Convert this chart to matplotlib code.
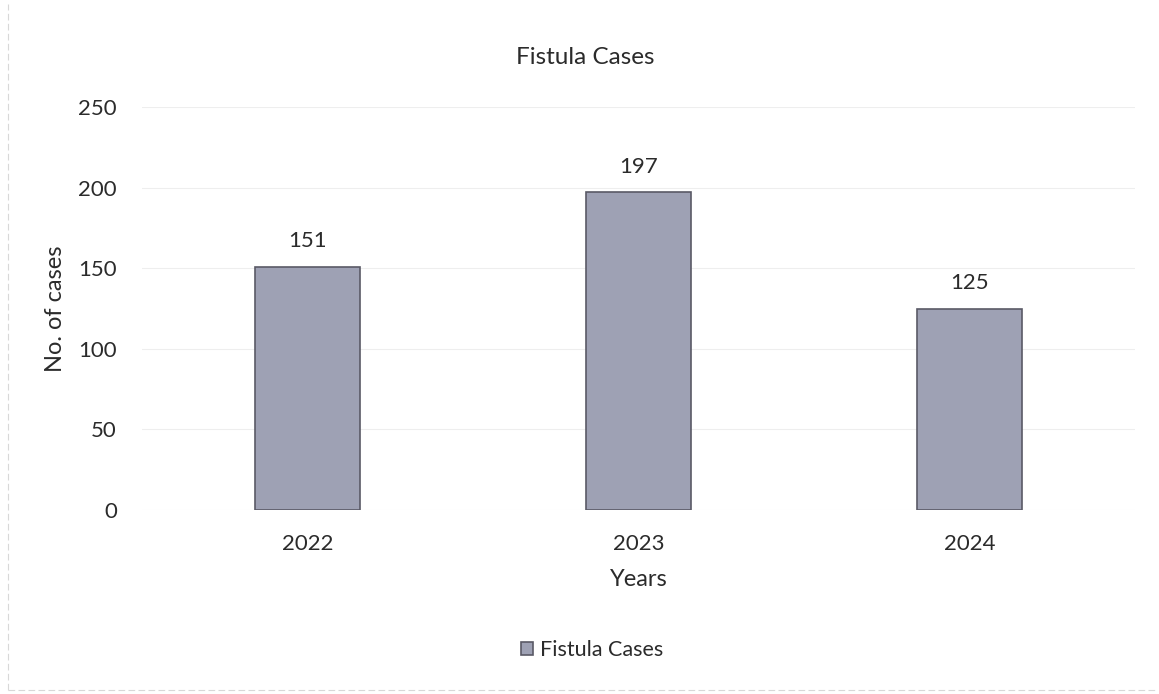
import matplotlib
matplotlib.use("Agg")
import matplotlib.pyplot as plt
from matplotlib.lines import Line2D

years = ["2022", "2023", "2024"]
cases = [151, 197, 125]
y_ticks = [0, 50, 100, 150, 200, 250]

plt.rcParams['font.family'] = ['Lato', 'DejaVu Sans']
text_color = "#2b2b2b"

fig = plt.figure(figsize=(11.59, 6.94), dpi=100)
ax = fig.add_axes([142 / 1159, 184 / 694, 993 / 1159, 403 / 694])

x = range(len(years))
bars = ax.bar(x, cases, width=0.32, color="#9ea1b4", edgecolor="#5a5a66",
              linewidth=1.2, label="Fistula Cases", zorder=3)

for xi, v in zip(x, cases):
    ax.annotate(str(v), (xi, v), xytext=(0, 11), textcoords="offset points",
                ha="center", va="bottom", fontsize=16, color=text_color)

ax.set_xlim(-0.5, 2.5)
ax.set_ylim(0, 250)
ax.set_yticks(y_ticks)
ax.set_xticks(list(x))
ax.set_xticklabels(years)
ax.tick_params(axis="both", length=0, labelsize=16, colors=text_color)
ax.tick_params(axis="x", pad=17)
ax.tick_params(axis="y", pad=18)
ax.yaxis.grid(True, color="#eeeeee", linewidth=0.8, zorder=0)
for s in ax.spines.values():
    s.set_visible(False)

ax.set_ylabel("No. of cases", fontsize=17, color=text_color, labelpad=9)
ax.set_xlabel("Years", fontsize=17, color=text_color, labelpad=11)
fig.text(585 / 1159, 1 - 57 / 694, "Fistula Cases", ha="center", va="center",
         fontsize=17.5, color=text_color)

leg = fig.legend(handles=[bars], labels=["Fistula Cases"], loc="center",
                 bbox_to_anchor=(592 / 1159, 1 - 650 / 694), frameon=False,
                 fontsize=15.5, handlelength=0.55, handleheight=0.55,
                 handletextpad=0.3)
for t in leg.get_texts():
    t.set_color(text_color)

# faint chart frame on the left and bottom edges
fig.add_artist(Line2D([8 / 1159, 8 / 1159], [4 / 694, 1 - 4 / 694],
                      transform=fig.transFigure, color="#d8d8d8",
                      linewidth=0.8, linestyle=(0, (6, 3))))
fig.add_artist(Line2D([8 / 1159, 1 - 4 / 1159], [4 / 694, 4 / 694],
                      transform=fig.transFigure, color="#d8d8d8",
                      linewidth=0.8, linestyle=(0, (6, 3))))

fig.savefig("out.png", dpi=100)
